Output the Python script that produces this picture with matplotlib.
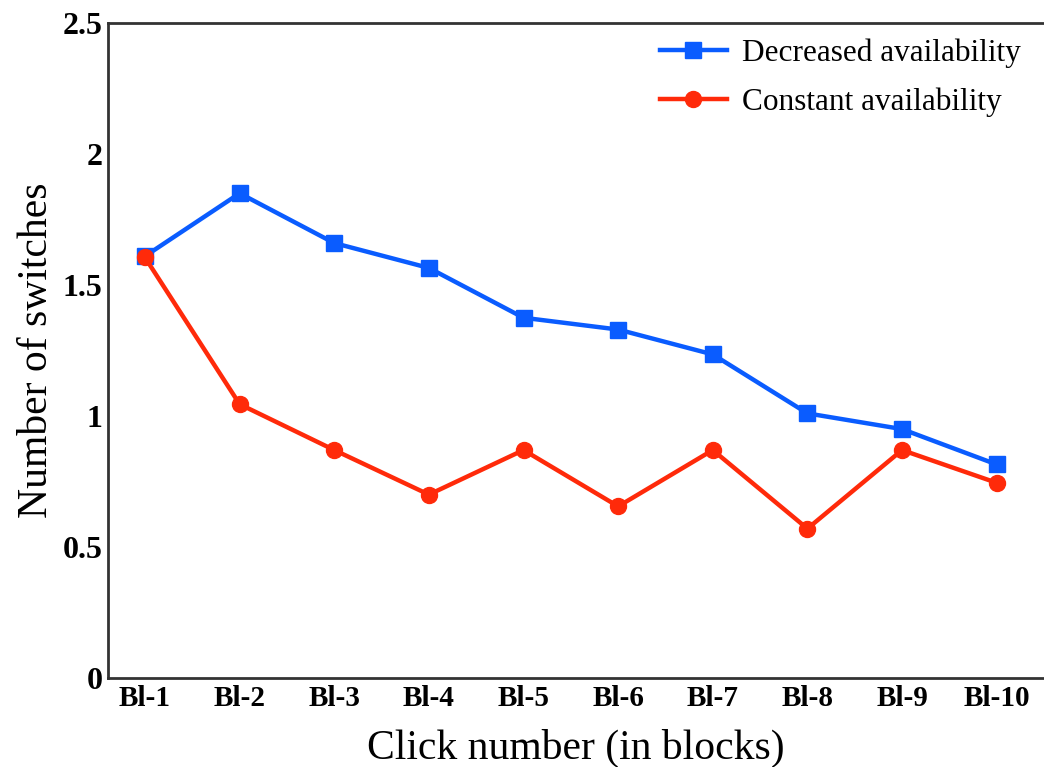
import matplotlib
matplotlib.use("Agg")
import matplotlib.pyplot as plt

blocks = ["Bl-1", "Bl-2", "Bl-3", "Bl-4", "Bl-5", "Bl-6", "Bl-7", "Bl-8", "Bl-9", "Bl-10"]
decreased = [1.61, 1.85, 1.66, 1.565, 1.375, 1.33, 1.235, 1.01, 0.95, 0.815]
constant = [1.605, 1.045, 0.87, 0.70, 0.87, 0.655, 0.87, 0.57, 0.87, 0.745]
yticks = [0, 0.5, 1, 1.5, 2, 2.5]
ytick_labels = ["0", "0.5", "1", "1.5", "2", "2.5"]

plt.rcParams['font.family'] = ['Liberation Serif', 'DejaVu Serif']

fig = plt.figure(figsize=(10.44, 7.67), dpi=100)
ax = fig.add_axes([108/1044, 1 - 678/767, 1 - 108/1044, (678 - 23)/767])

x = range(1, len(blocks) + 1)
ax.plot(x, decreased, color='#0a5cff', lw=3.2, marker='s', ms=11.5,
        label="Decreased availability", clip_on=False)
ax.plot(x, constant, color='#ff2a0a', lw=3.2, marker='o', ms=11.5,
        label="Constant availability", clip_on=False)

ax.set_xlim(0.609, 10.5)
ax.set_ylim(0, 2.5)
ax.set_xticks(list(x))
ax.set_xticklabels(blocks, fontweight='bold', fontsize=21)
ax.set_yticks(yticks)
ax.set_yticklabels(ytick_labels, fontweight='bold', fontsize=23)
ax.tick_params(length=0)
ax.tick_params(axis='x', pad=5)
ax.tick_params(axis='y', pad=4)

ax.spines['right'].set_visible(False)
for s in ['left', 'top', 'bottom']:
    ax.spines[s].set_linewidth(2)
    ax.spines[s].set_color('#333333')

ax.set_xlabel("Click number (in blocks)", fontsize=30, labelpad=12)
ax.set_ylabel("Number of switches", fontsize=30, labelpad=5)

ax.legend(loc='upper left', bbox_to_anchor=(660/1044, 1 - 38/767),
          bbox_transform=fig.transFigure, frameon=False, fontsize=22.5,
          handlelength=2.13, handletextpad=0.5, labelspacing=0.64, borderpad=0,
          borderaxespad=0)

fig.savefig("out.png", dpi=100)
